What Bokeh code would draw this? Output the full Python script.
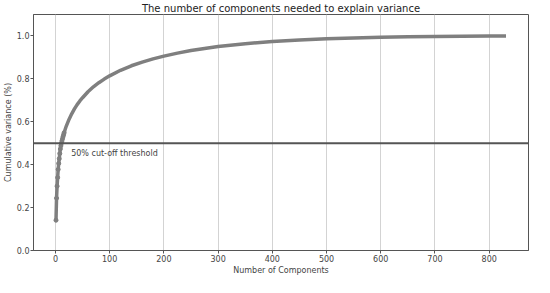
from bokeh.plotting import figure
from bokeh.models import Range1d, FixedTicker, Span, Label, CustomJSTickFormatter
from bokeh.embed import file_html
from bokeh.resources import INLINE

# Cumulative explained variance
components = [1, 2, 3, 4, 5, 6, 7, 8, 9, 10, 11, 12, 13, 14, 15, 16, 18, 20, 25, 30,
              35, 40, 45, 50, 60, 70, 80, 90, 100, 120, 140, 160, 180, 200, 225, 250,
              275, 300, 350, 400, 450, 500, 550, 600, 650, 700, 750, 800, 831]
cum_variance = [0.141, 0.244, 0.300, 0.340, 0.378, 0.406, 0.428, 0.452, 0.473, 0.488,
                0.500, 0.511, 0.521, 0.531, 0.540, 0.549, 0.565, 0.580, 0.611, 0.637,
                0.660, 0.680, 0.697, 0.712, 0.740, 0.763, 0.782, 0.799, 0.814, 0.840,
                0.861, 0.878, 0.893, 0.906, 0.920, 0.932, 0.942, 0.951, 0.964, 0.974,
                0.981, 0.987, 0.991, 0.994, 0.996, 0.998, 0.999, 1.000, 1.000]
n_individual = 16  # the first components are read one by one (visible dots)
x_ticks = [0, 100, 200, 300, 400, 500, 600, 700, 800]
y_ticks = [0.0, 0.2, 0.4, 0.6, 0.8, 1.0]
threshold = 0.5
threshold_label = "50% cut-off threshold"
threshold_label_pos = (29, 0.45)

FONT = "DejaVu Sans"
TXT = "#444444"

p = figure(width=534, height=277, output_backend="svg", toolbar_location=None,
           title="The number of components needed to explain variance",
           x_range=Range1d(-40.5, 872.5), y_range=Range1d(0, 1.1),
           x_axis_label="Number of Components", y_axis_label="Cumulative variance (%)",
           min_border_left=27, min_border_right=6, min_border_top=2, min_border_bottom=0)

p.title.align = "center"
p.title.text_font = FONT
p.title.text_font_size = "10px"
p.title.text_font_style = "normal"
p.title.text_color = "#222222"
p.title.standoff = 1

p.outline_line_color = "#555555"
p.outline_line_width = 1

for ax in (p.xaxis[0], p.yaxis[0]):
    ax.axis_label_text_font = FONT
    ax.axis_label_text_font_size = "8px"
    ax.axis_label_text_font_style = "normal"
    ax.axis_label_text_color = TXT
    ax.major_label_text_font = FONT
    ax.major_label_text_font_size = "8px"
    ax.major_label_text_color = TXT
    ax.axis_line_color = "#555555"
    ax.major_tick_line_color = "#555555"
    ax.major_tick_out = 3
    ax.major_tick_in = 0
    ax.minor_tick_line_color = None
    ax.axis_label_standoff = 1
    ax.major_label_standoff = 1

p.xaxis.ticker = FixedTicker(ticks=x_ticks)
p.yaxis.ticker = FixedTicker(ticks=y_ticks)
p.yaxis.formatter = CustomJSTickFormatter(code="return tick.toFixed(1);")

p.xgrid.ticker = FixedTicker(ticks=x_ticks)
p.xgrid.grid_line_color = "#d3d3d3"
p.xgrid.grid_line_width = 1
p.ygrid.grid_line_color = None

p.line(components, cum_variance, line_color="#7f7f7f", line_width=3.5)
p.scatter(components[:n_individual], cum_variance[:n_individual], size=4, marker="circle",
          fill_color="#7f7f7f", line_color="#7f7f7f")

p.add_layout(Span(location=threshold, dimension="width",
                  line_color="#555555", line_width=2))
p.add_layout(Label(x=threshold_label_pos[0], y=threshold_label_pos[1], text=threshold_label,
                   text_font=FONT, text_font_size="8px", text_color=TXT,
                   text_baseline="alphabetic"))

open("out.html", "w").write(file_html(p, INLINE))
